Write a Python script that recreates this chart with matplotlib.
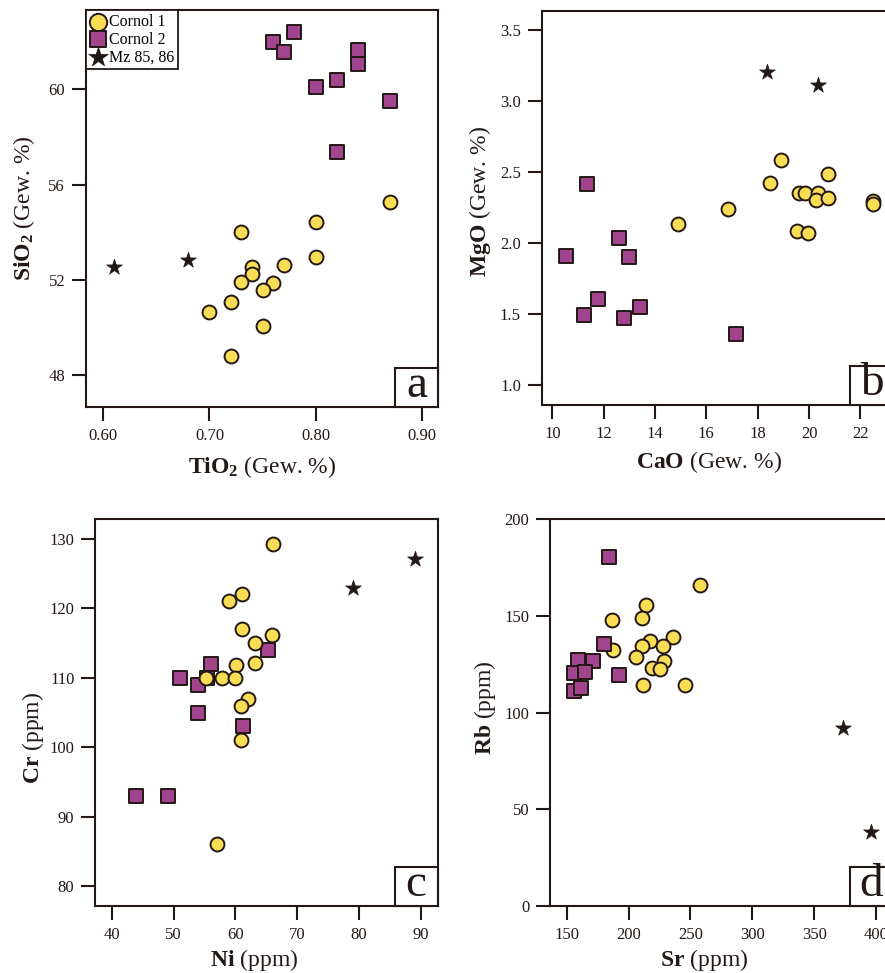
import numpy as np
import matplotlib
matplotlib.use('Agg')
import matplotlib.pyplot as plt
from matplotlib.patches import Rectangle

plt.rcParams['font.family'] = ['Liberation Serif', 'DejaVu Serif']
plt.rcParams['mathtext.fontset'] = 'custom'
plt.rcParams['mathtext.rm'] = 'Liberation Serif'
plt.rcParams['mathtext.bf'] = 'Liberation Serif:bold'

INK = '#231815'
YELLOW = '#F8DD55'
PURPLE = '#A2448E'

# --- a: TiO2 vs SiO2 ---
a_c1_tio2 = [0.87, 0.80, 0.73, 0.80, 0.77, 0.74, 0.74, 0.73, 0.76, 0.75, 0.72, 0.70, 0.75, 0.72]
a_c1_sio2 = [55.25, 54.44, 54.02, 52.94, 52.62, 52.53, 52.24, 51.92, 51.88, 51.57, 51.05, 50.63, 50.07, 48.82]
a_c2_tio2 = [0.78, 0.76, 0.77, 0.84, 0.84, 0.82, 0.80, 0.87, 0.82]
a_c2_sio2 = [62.39, 62.00, 61.55, 61.65, 61.05, 60.39, 60.08, 59.52, 57.38]
a_mz_tio2 = [0.61, 0.68]
a_mz_sio2 = [52.55, 52.83]

# --- b: CaO vs MgO ---
b_c1_cao = [18.91, 18.48, 20.73, 19.61, 19.84, 20.36, 20.26, 20.73, 22.51, 22.51, 16.86, 14.91, 19.55, 19.97]
b_c1_mgo = [2.585, 2.419, 2.482, 2.353, 2.353, 2.353, 2.302, 2.318, 2.297, 2.273, 2.236, 2.133, 2.086, 2.072]
b_c2_cao = [11.35, 12.61, 10.52, 12.97, 11.79, 11.22, 12.78, 13.43, 17.16]
b_c2_mgo = [2.414, 2.037, 1.908, 1.898, 1.607, 1.490, 1.474, 1.551, 1.359]
b_mz_cao = [18.38, 20.34]
b_mz_mgo = [3.205, 3.111]

# --- c: Ni vs Cr ---
c_c1_ni = [66.0, 61.1, 59.0, 61.0, 65.9, 63.1, 60.1, 63.1, 55.3, 57.9, 60.0, 62.1, 60.9, 60.9, 57.0]
c_c1_cr = [129.3, 122.1, 121.1, 117.0, 116.1, 115.0, 111.9, 112.1, 109.9, 109.9, 109.9, 106.9, 105.9, 101.0, 86.1]
c_c2_ni = [65.3, 56.0, 51.0, 55.4, 54.0, 54.0, 61.2, 43.9, 49.1]
c_c2_cr = [114.0, 112.0, 110.0, 110.0, 109.0, 105.0, 103.0, 93.0, 92.9]
c_mz_ni = [79.0, 89.0]
c_mz_cr = [123.0, 127.1]

# --- d: Sr vs Rb ---
d_c1_sr = [257.8, 214.1, 211.2, 186.6, 236.2, 217.1, 211.2, 227.9, 187.4, 205.8, 228.9, 219.0, 225.7, 211.7, 245.6]
d_c1_rb = [166.2, 155.7, 148.8, 147.8, 139.1, 137.2, 134.5, 134.3, 132.2, 128.6, 126.6, 123.3, 122.4, 114.5, 114.1]
d_c2_sr = [184.2, 180.4, 158.9, 171.6, 155.7, 164.8, 192.3, 155.7, 161.3]
d_c2_rb = [180.7, 135.5, 127.2, 126.9, 120.3, 120.9, 119.5, 111.4, 112.8]
d_mz_sr = [373.1, 396.0]
d_mz_rb = [92.2, 38.1]

labels = ['Cornol 1', 'Cornol 2', 'Mz 85, 86']

W, H = 885, 973
fig = plt.figure(figsize=(W / 100, H / 100), dpi=100)


def px_axes(l, t, r, b):
    # axes from pixel box (left, top, right, bottom)
    return fig.add_axes([l / W, 1 - b / H, (r - l) / W, (b - t) / H])


def draw(ax, c1, c2, mz, squares_first=False):
    kw1 = dict(marker='o', s=100, c=YELLOW, edgecolors=INK, linewidths=1.4, label=labels[0])
    kw2 = dict(marker='s', s=95, c=PURPLE, edgecolors=INK, linewidths=1.4, label=labels[1])
    if squares_first:
        h2 = ax.scatter(*c2, zorder=3, **kw2)
        h1 = ax.scatter(*c1, zorder=4, **kw1)
    else:
        h1 = ax.scatter(*c1, zorder=3, **kw1)
        h2 = ax.scatter(*c2, zorder=4, **kw2)
    h3 = ax.scatter(*mz, marker='*', s=140, c=INK, edgecolors=INK, linewidths=0.5,
                    zorder=5, label=labels[2])
    return h1, h2, h3


def style(ax, letter):
    for sp in ax.spines.values():
        sp.set_linewidth(1.5)
        sp.set_color(INK)
    ax.tick_params(direction='out', length=10, width=1.5, color=INK,
                   labelsize=12, labelcolor=INK, pad=5)
    # letter box in lower right corner
    bb = ax.get_position()
    wf = 43 / (bb.width * W)
    hf = 39 / (bb.height * H)
    ax.add_patch(Rectangle((1 - wf, 0), wf, hf, transform=ax.transAxes,
                           fc='white', ec=INK, lw=1.5, zorder=6, clip_on=False))
    ax.text(1 - wf / 2, 0.25 * hf, letter, transform=ax.transAxes, ha='center',
            va='baseline', fontsize=34, color=INK, zorder=7)


def labels_xy(ax, xl, yl, xpos, ypos):
    ax.set_xlabel(xl, fontsize=17, color=INK, va='center')
    ax.set_ylabel(yl, fontsize=17, color=INK, va='center')
    ax.xaxis.set_label_coords(*xpos)
    ax.yaxis.set_label_coords(*ypos)


# panel a
ax = px_axes(86, 10, 438, 407)
hs = draw(ax, (a_c1_tio2, a_c1_sio2), (a_c2_tio2, a_c2_sio2), (a_mz_tio2, a_mz_sio2))
ax.set_xlim(0.5836, 0.9154)
ax.set_ylim(46.66, 63.33)
ax.set_xticks([0.60, 0.70, 0.80, 0.90])
ax.set_xticklabels(['0.60', '0.70', '0.80', '0.90'])
ax.set_yticks([48, 52, 56, 60])
style(ax, 'a')
labels_xy(ax, r'$\mathbf{TiO_2}$ (Gew. %)', r'$\mathbf{SiO_2}$ (Gew. %)',
          (0.5, -0.15), (-0.175, 0.5))
leg = ax.legend(handles=hs, loc='upper left', borderaxespad=0, fancybox=False,
                edgecolor=INK, framealpha=1, fontsize=11.5, handletextpad=0.2,
                borderpad=0.25, labelspacing=0.1, handlelength=1.0, scatterpoints=1,
                markerscale=1.25)
leg.get_frame().set_linewidth(1.3)
leg.set_zorder(8)

# panel b
ax = px_axes(541.7, 10.7, 893, 405)
draw(ax, (b_c1_cao, b_c1_mgo), (b_c2_cao, b_c2_mgo), (b_mz_cao, b_mz_mgo))
ax.set_xlim(9.587, 23.27)
ax.set_ylim(0.859, 3.634)
ax.set_xticks(np.arange(10, 24, 2))
ax.set_yticks([1.0, 1.5, 2.0, 2.5, 3.0, 3.5])
ax.set_yticklabels(['1.0', '1.5', '2.0', '2.5', '3.0', '3.5'])
style(ax, 'b')
labels_xy(ax, r'$\mathbf{CaO}$ (Gew. %)', r'$\mathbf{MgO}$ (Gew. %)',
          (0.476, -0.144), (-0.176, 0.516))

# panel c
ax = px_axes(95.3, 519.3, 437.7, 905.7)
draw(ax, (c_c1_ni, c_c1_cr), (c_c2_ni, c_c2_cr), (c_mz_ni, c_mz_cr), squares_first=True)
ax.set_xlim(37.36, 92.69)
ax.set_ylim(77.17, 132.83)
ax.set_xticks(np.arange(40, 100, 10))
ax.set_yticks(np.arange(80, 140, 10))
style(ax, 'c')
labels_xy(ax, r'$\mathbf{Ni}$ (ppm)', r'$\mathbf{Cr}$ (ppm)',
          (0.463, -0.141), (-0.182, 0.434))

# panel d
ax = px_axes(550, 519.3, 893, 906)
draw(ax, (d_c1_sr, d_c1_rb), (d_c2_sr, d_c2_rb), (d_mz_sr, d_mz_rb))
ax.set_xlim(136.5, 413.7)
ax.set_ylim(0, 200)
ax.set_xticks(np.arange(150, 450, 50))
ax.set_yticks(np.arange(0, 250, 50))
style(ax, 'd')
labels_xy(ax, r'$\mathbf{Sr}$ (ppm)', r'$\mathbf{Rb}$ (ppm)',
          (0.449, -0.14), (-0.19, 0.513))

fig.savefig('out.png', dpi=100)
